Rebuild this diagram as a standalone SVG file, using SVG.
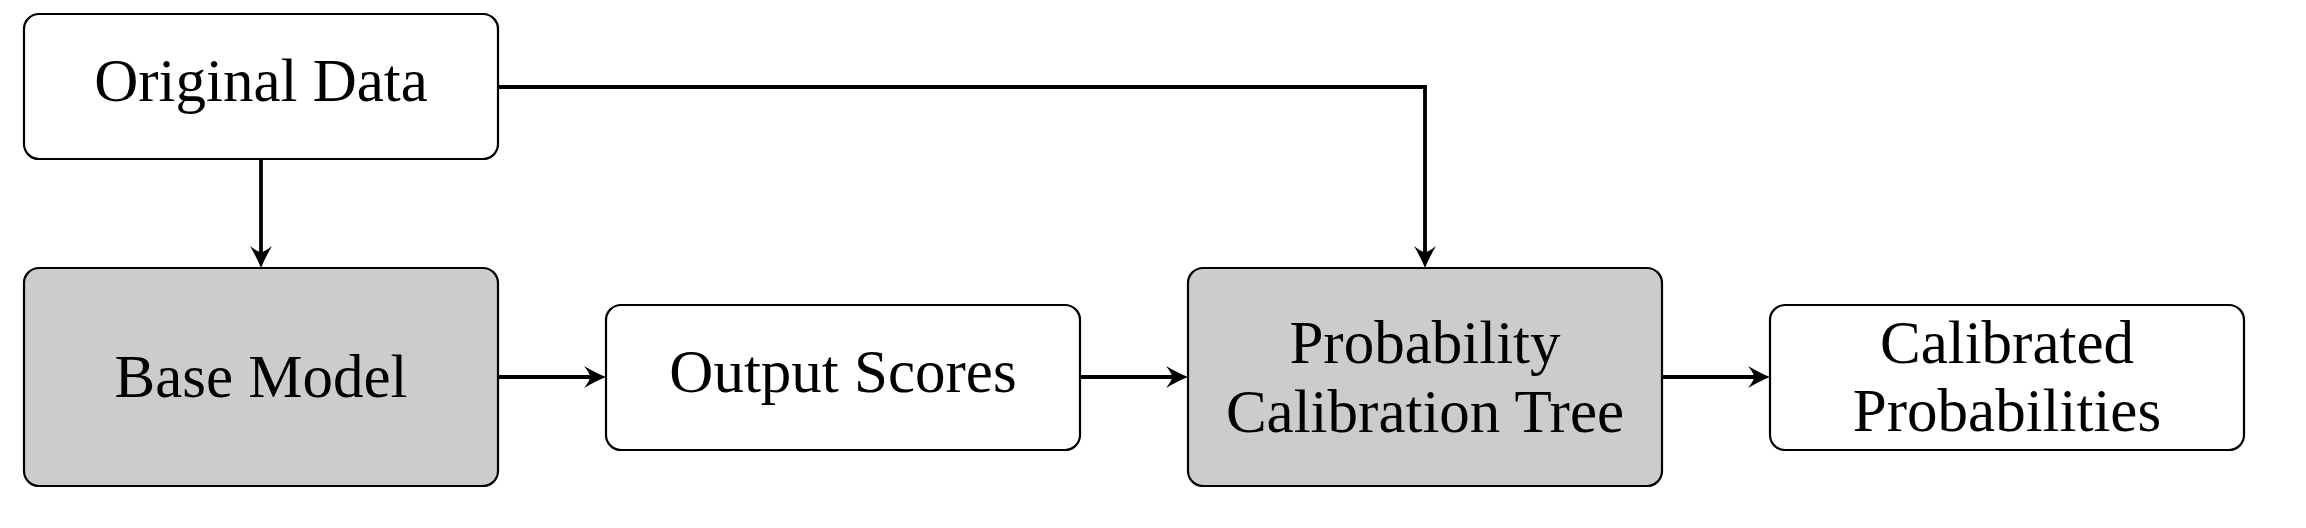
<svg xmlns="http://www.w3.org/2000/svg" width="2306" height="528" viewBox="0 0 2306 528">
  <style>
    .box { stroke: #000; stroke-width: 2.2; }
    .white { fill: #ffffff; }
    .grey { fill: #cccccc; }
    .lbl { font-family: "Liberation Serif", "Times New Roman", serif; font-size: 61px; fill: #000; text-anchor: middle; }
    .conn { fill: none; stroke: #000; stroke-width: 3.8; marker-end: url(#arrow); }
  </style>
  <defs>
    <marker id="arrow" markerUnits="userSpaceOnUse" viewBox="-13 -12 26 24" markerWidth="26" markerHeight="24" refX="0" refY="0" orient="auto">
      <path d="M10,0 Q1,-3.5 -12,-11 Q-6,-3.5 -6,0 Q-6,3.5 -12,11 Q1,3.5 10,0 Z" fill="#000"/>
    </marker>
  </defs>
  <rect width="2306" height="528" fill="#ffffff"/>

  <g id="connectors">
    <path class="conn" d="M261,160 V258"/>
    <path class="conn" d="M499,377 H596"/>
    <path class="conn" d="M1081,377 H1178"/>
    <path class="conn" d="M1663,377 H1760"/>
    <path class="conn" d="M499,87 H1425 V258"/>
  </g>

  <g id="original-data">
    <rect class="box white" x="24" y="14" width="474" height="145" rx="15"/>
    <text class="lbl" x="261" y="101">Original Data</text>
  </g>
  <g id="base-model">
    <rect class="box grey" x="24" y="268" width="474" height="218" rx="15"/>
    <text class="lbl" x="261" y="397">Base Model</text>
  </g>
  <g id="output-scores">
    <rect class="box white" x="606" y="305" width="474" height="145" rx="15"/>
    <text class="lbl" x="843" y="392">Output Scores</text>
  </g>
  <g id="probability-calibration-tree">
    <rect class="box grey" x="1188" y="268" width="474" height="218" rx="15"/>
    <text class="lbl" x="1425" y="363">Probability</text>
    <text class="lbl" x="1425" y="432">Calibration Tree</text>
  </g>
  <g id="calibrated-probabilities">
    <rect class="box white" x="1770" y="305" width="474" height="145" rx="15"/>
    <text class="lbl" x="2007" y="363">Calibrated</text>
    <text class="lbl" x="2007" y="431">Probabilities</text>
  </g>
</svg>
